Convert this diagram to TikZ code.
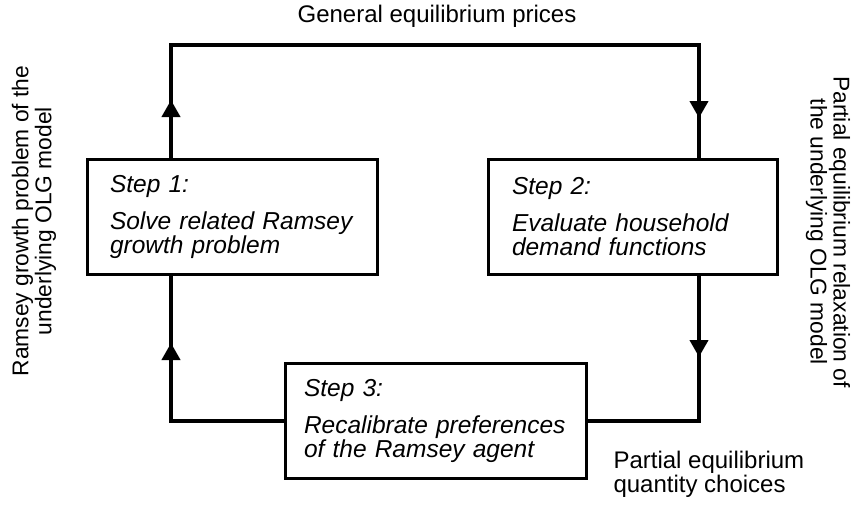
\documentclass[tikz,border=0pt]{standalone}
\usepackage{fontspec}
\setmainfont{Liberation Sans}
\usetikzlibrary{arrows.meta}
\tikzset{
  stepbox/.style={draw, line width=3pt, align=left, minimum height=115pt,
    font=\fontsize{24.5}{24}\selectfont\itshape},
  lbl/.style={align=center, font=\fontsize{24}{24}\selectfont},
  side/.style={lbl, font=\fontsize{22.8}{23}\selectfont},
  flow/.style={line width=4pt},
  tip/.style={flow, -{Triangle[length=17pt,width=18pt]}}
}
\begin{document}
\begin{tikzpicture}[x=1pt,y=-1pt]
      \useasboundingbox (0,0) rectangle (855,507);
      \draw
        (232,216.5) node[stepbox, inner xsep=23pt, text width=244pt] (s1)
          {Step 1:\\[13pt]Solve related Ramsey\\growth problem}
        (632.5,217) node[stepbox, inner xsep=24pt, text width=241pt] (s2)
          {Step 2:\\[13pt]Evaluate household\\demand functions}
        (435.5,421) node[stepbox, inner xsep=19pt, text width=263pt] (s3)
          {Step 3:\\[13pt]Recalibrate preferences\\of the Ramsey agent};
      \draw
        (437,22) node[lbl, anchor=base] (prices) {General equilibrium prices}
        (34,221) node[side, rotate=90] (ramsey)
          {Ramsey growth problem of the\\underlying OLG model}
        (828,232) node[side, rotate=-90] (relax)
          {Partial equilibrium relaxation of\\the underlying OLG model}
        (610,492) node[lbl, align=left, anchor=base west] (choices)
          {Partial equilibrium\\quantity choices};
      \coordinate (nw) at (171,45);
      \coordinate (ne) at (699,45);
      \coordinate (sw) at (171,421);
      \coordinate (se) at (699,421);
      \coordinate (up1) at (171,100);
      \coordinate (dn1) at (699,118);
      \coordinate (dn2) at (699,357);
      \coordinate (up2) at (171,343);
      \begin{scope}[flow]
        \draw (s1.north -| nw) -- (nw) -- (ne) -- (s2.north -| ne);
        \draw (s2.south -| se) -- (se) -- (s3.east);
        \draw (s3.west) -- (sw) -- (s1.south -| sw);
      \end{scope}
      \draw[tip] (s1.north -| nw) -- (up1);
      \draw[tip] (ne) -- (dn1);
      \draw[tip] (s2.south -| se) -- (dn2);
      \draw[tip] (sw) -- (up2);
    \end{tikzpicture}
\end{document}
